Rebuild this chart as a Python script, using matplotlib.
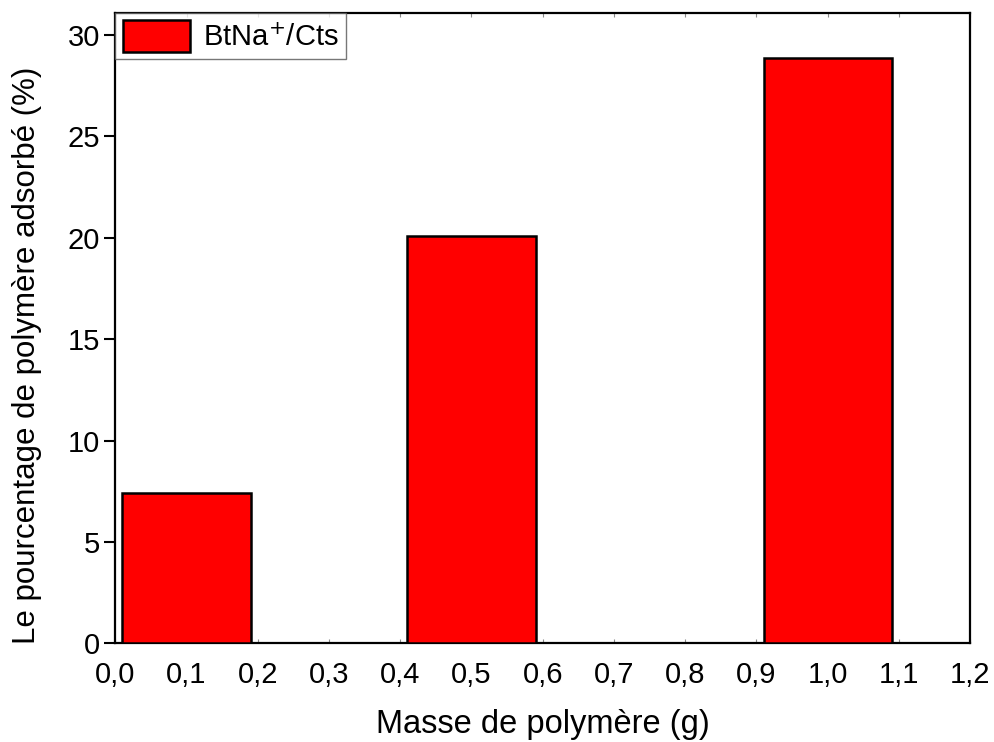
import numpy as np
import matplotlib.pyplot as plt

plt.rcParams['font.family'] = ['Liberation Sans', 'DejaVu Sans']

# données
masse = [0.1, 0.5, 1.0]
pourcentage = [7.4, 20.08, 28.86]
xticks = np.round(np.arange(0, 1.21, 0.1), 1)
xtick_labels = [f'{v:.1f}'.replace('.', ',') for v in xticks]
yticks = [0, 5, 10, 15, 20, 25, 30]

fig = plt.figure(figsize=(9.94, 7.42), dpi=100)
ax = fig.add_axes([0.116, 0.133, 0.86, 0.85])

ax.bar(masse, pourcentage, width=0.18, color='#ff0000', edgecolor='black',
       linewidth=1.8, label='BtNa$^{+}$/Cts', zorder=3)

ax.set_xlim(0, 1.2)
ax.set_ylim(0, 31.1)
ax.set_xticks(xticks)
ax.set_xticklabels(xtick_labels)
ax.set_yticks(yticks)

ax.tick_params(axis='y', direction='out', length=8, width=1.5, labelsize=21, pad=3)
ax.tick_params(axis='x', direction='in', length=3, width=0.8, color='#888888',
               labelsize=21, top=True, pad=13)

for s in ax.spines.values():
    s.set_linewidth(1.6)

ax.set_xlabel('Masse de polymère (g)', fontsize=23.5, labelpad=14)
ax.set_ylabel('Le pourcentage de polymère adsorbé (%)', fontsize=22.5)
ax.yaxis.set_label_coords(-0.086, 0.456)

leg = ax.legend(loc='upper left', fontsize=21, frameon=True, fancybox=False,
                borderaxespad=0, handlelength=2.3, handleheight=1.3,
                borderpad=0.25, handletextpad=0.45)
leg.get_frame().set_edgecolor('#555555')
leg.get_frame().set_linewidth(1.0)

plt.savefig('out.png', dpi=100)
